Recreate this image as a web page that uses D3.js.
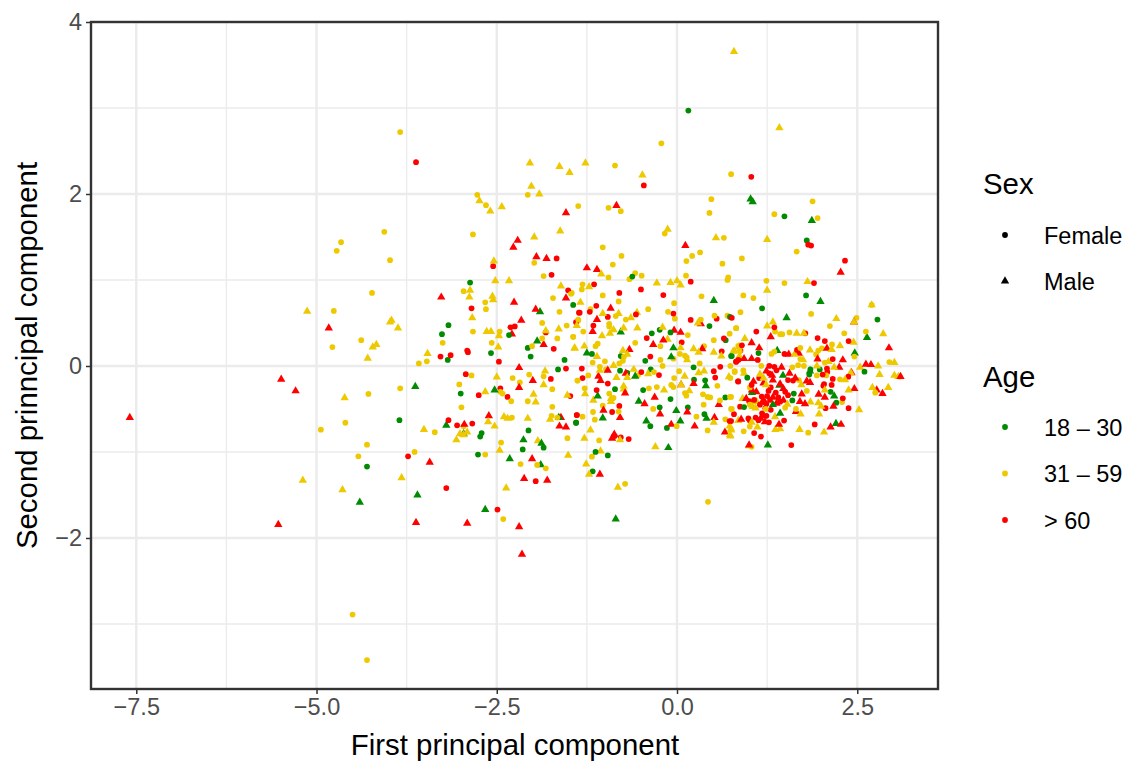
<!DOCTYPE html>
<html>
<head>
<meta charset="utf-8">
<title>PCA scatterplot</title>
<script src="https://cdnjs.cloudflare.com/ajax/libs/d3/7.8.5/d3.min.js"></script>
<style>
  html, body { margin: 0; background: #fff; }
  text { font-family: "Liberation Sans", Helvetica, Arial, sans-serif; }
</style>
</head>
<body>
<script>
var xTicks = [-7.5, -5, -2.5, 0, 2.5];
var yTicks = [-2, 0, 2, 4];
var xMinor = [-6.25, -3.75, -1.25, 1.25];
var yMinor = [-3, -1, 1, 3];
var sexLabels = ['Female', 'Male'];
var ageLabels = ['18 \u2013 30', '31 \u2013 59', '> 60'];

// [first component, second component]
var maleMiddle = [[-5.13,.635],[-4.17,.25],[-4.22,.22],[-4.29,.09],[-3.98,.51],[-4.61,-.37],[-5.19,-1.33],[-4.64,-1.44],
[-2.04,2.36],[-1.63,2.32],[-1.49,2.25],[-2.02,2.09],[-1.91,2],[-2.74,1.92],[-2.43,1.85],[-2.59,1.8],[-1.62,1.57],[-1.98,1.5],[-2.54,1.22],[-2.52,.99],[-2.33,.99],[-1.61,.93],[-2.87,.88],[-2.88,.8],[-2.56,.81],[-2.55,.77],[-2.84,.56],[-3.96,.53],[-3.87,.44],[-1.39,.47],[-1.82,.41],[-1.64,.43],[-2.64,.4],[-2.58,.4],[-2.47,.35],[-2.48,.22],[-1.42,.21],
[-3.46,.145],[-2.5,-.13],[-1.83,-.06],[-1.85,-.22],[-2.66,-.3],[-1.99,-.33],[-1.52,-.34],[-1.96,-.42],[-2.4,-.59],[-2.35,-.61],[-2.07,-.61],[-1.76,-.62],[-2.62,-.65],[-2.53,-.7],[-3.51,-.74],[-2.91,-.77],[-3.01,-.79],[-2.96,-.8],[-3.06,-.86],[-1.93,-.87],[-2.46,-.98],[-1.51,-1.04],[-3.82,-1.3],[-2.37,-1.42],
[.79,3.655],[1.42,2.77],[-1.27,2.36],[-.48,2.22],[-.13,1.59],[.54,1.49],[1.25,1.47],[-1.05,1.07],[-.28,.965],[-.09,.97],[0,.99],[.05,.94],[1.81,.98],[-1.22,.92],[1.25,.88],[-1.34,.74],[2.7,.71],[-1.03,.61],[-.81,.61],[-.555,.62],[2.21,.55],[-.64,.56],
[.29,.5],[-.74,.44],[-.55,.44],[-.2,.45],[-.88,.42],[-.93,.38],[-1.04,.35],[-.13,.31],[-1.42,.205],[-1.285,.23],[-.75,.18],[.23,.2],[.05,.21],[.78,.17],[.51,.16],[.3,.16],[-.69,.135],[-1.11,.11],[.615,.116],[.14,.07],[-.88,.004],[-1.07,-.05],[-.6,-.04],[.375,-.06],[-.4,-.09],[.3,-.08],[-.69,-.135],[-.84,-.135],[.72,-.125],[.106,-.12],[.056,-.22],[-.18,-.28],[-.74,-.235],[-.74,-.27],[-1.275,-.325],[.17,-.29],[-.915,-.38],[-1.16,-.4],[-.915,-.415],[.51,-.655],[.73,-.7],[.75,-.745],[-1.2,-.745],[.74,-.815],[-.79,-.86],[-1.285,-.84],[-.3,-.94],[-1.06,-.99],[-1.26,-1.14],[-1.22,-1.26],[-.82,-1.41],
[2.455,.51],[1.25,.465],[1.33,.51],[2.86,.375],[1.66,.38],[1.76,.38],[.94,.32],[2.45,.275],[2.26,.235],[1.845,.186],[2.145,.19],[.86,.225],[1.63,.135],[.8,.175],[.865,.116],[1.75,.07],[2.1,.05],[3.015,.04],[2.79,0],[1.94,0],[2.18,-.015],[2.54,-.015],[2.41,-.08],[.93,-.085],[1.15,-.097],[1.2,-.14],[2.81,-.1],[3.015,-.11],[3.07,-.124],[2.33,-.16],[1.235,-.22],[1.725,-.22],[2.38,-.28],[2.71,-.25],[2.93,-.25],[2.05,-.28],[.91,-.38],[1.105,-.415],[1.85,-.42],[1.96,-.43],[2,-.47],[2.525,-.51],[1.05,-.473],[1.53,-.446],[1.09,-.49],[1.715,-.56],[1.97,-.56],[1.36,-.59],[.85,-.635],[1.035,-.655],[.75,-.73],[1.115,-.71],[1.365,-.74],[1.43,-.73],[1.7,-.74],[2.04,-.77],[.735,-.8],[.998,-.93]];

var femaleMiddle = [[-4.06,1.56],[-4.66,1.44],[-4.72,1.34],[-3.98,1.23],[-4.23,.85],[-4.76,.64],[-4.38,.3],[-4.78,.22],[-4.28,-.325],[-4.6,-.66],[-4.94,-.74],[-4.3,-.915],[-4.42,-1.05],[-4.5,-2.89],[-4.3,-3.42],[-3.84,2.72],
[-2.77,1.99],[-2.07,1.99],[-2.65,1.87],[-1.37,1.86],[-2.83,1.53],[-1.98,1.2],[-1.85,1.045],[-2.96,.87],[-1.47,.84],[-1.72,.79],[-2.66,.74],[-2.65,.66],[-1.63,.63],[-1.87,.5],[-1.37,.53],[-1.53,.47],[-2.83,.4],[-2.46,.4],[-1.66,.32],[-1.44,.34],[-1.87,.32],[-3.25,.27],[-2.57,.27],[-2.01,.23],
[-3.58,.03],[-3.47,.055],[-2.85,-.11],[-2.28,-.14],[-2.05,-.1],[-1.85,-.12],[-2.18,-.19],[-1.38,-.17],[-3.02,-.215],[-3.84,-.26],[-1.73,-.27],[-2.45,-.3],[-2.42,-.32],[-2.3,-.41],[-2.07,-.41],[-2.99,-.48],[-1.73,-.475],[-2.29,-.6],[-1.74,-.58],[-1.66,-.6],[-2.96,-.7],[-3.36,-.77],[-1.52,-.84],[-2.44,-.89],[-3.64,-1],[-2.66,-1.03],[-2.17,-1.14],[-1.94,-1.15],[-1.82,-1.19],[-2.41,-1.78],
[-.217,2.59],[-.86,2.33],[.75,2.23],[.476,1.94],[1.88,1.915],[-.95,1.84],[-.78,1.8],[.45,1.78],[1.35,1.765],[1.95,1.72],[-.17,1.54],[.65,1.49],[-1.03,1.38],[.32,1.32],[1.66,1.33],[-.77,1.28],[.21,1.28],[.9,1.25],[.13,1.22],[-.89,1.18],[.63,1.19],[-.95,1.03],[-.58,1.08],[-.66,1.01],[-.49,1.05],[.125,1.05],[.71,1.03],[.7,1],[1.24,.99],[1.49,.965],[-1.31,.95],[-1.32,.89],[-1.46,.85],[-1.03,.82],[.34,.81],[.92,.82],[1.06,.79],[-.81,.75],[-.04,.73],[2.7,.71],[-1.2,.66],[-.4,.66],[-.125,.63],[.88,.625],[1.86,.605],[.52,.585],[.7,.585],[-.85,.58],[2.49,.56],[.33,.54],[-.71,.54],[-.03,.55],[-1.37,.54],
[-.94,.49],[-.94,.46],[.82,.44],[-1.3,.4],[.15,.36],[.73,.375],[-1.44,.34],[.51,.3],[-.58,.27],[-1.1,.26],[-1.13,.23],[-.23,.23],[.375,.23],[.85,.235],[.04,.14],[.11,.12],[.135,.1],[-.735,.11],[-.05,.085],[-.23,.07],[-1.17,.04],[-.8,.03],[-.75,.06],[-1,.055],[-.2,0],[.315,.03],[-1.07,-.01],[.74,0],[-.985,-.04],[.8,-.07],[-.32,-.07],[.03,-.06],[-.54,-.105],[-1.23,-.11],[-.04,-.14],[.56,-.23],[-1.38,-.17],[-.08,-.22],[-.05,-.245],[-.28,-.245],[-.39,-.26],[-1.28,-.26],[-.94,-.32],[.11,-.315],[.13,-.345],[.36,-.33],[.425,-.36],[.46,-.365],[.75,-.36],[-.88,-.37],[.596,-.4],[.37,-.45],[-1.03,-.46],[-.33,-.5],[.75,-.5],[-.81,-.53],[-1.165,-.535],[-1.31,-.59],[-1.14,-.625],[.27,-.59],[.67,-.62],[-.005,-.7],[.425,-.75],[-1.08,-.865],[-1.18,-1.055],[-.72,-1.37],[.43,-1.58],
[2.12,.465],[.82,.44],[1.36,.4],[1.43,.37],[1.46,.37],[1.56,.39],[2.32,.38],[2.62,.4],[2.15,.25],[1.71,.21],[2.01,.205],[1.96,.18],[1.35,.167],[1.31,.14],[2.46,.11],[.87,.17],[1.93,.135],[1.71,.08],[2.05,.04],[2.945,.046],[1.17,0],[1.68,.01],[1.6,-.015],[1.76,0],[1.94,-.11],[2.07,-.11],[3.09,-.124],[2.26,-.155],[.8,-.06],[.92,-.05],[.74,-.14],[1.69,-.163],[1.01,-.25],[1.8,-.29],[.735,-.36],[2.29,-.42],[2.75,-.31],[1.01,-.45],[.76,-.5],[1.23,-.5],[1.5,-.485],[1.65,-.5],[1.01,-.705],[.925,-.76],[1.82,-.775],[1.035,-.94]];

var maleYoung = [[-4.4,-1.585],[-1.9,.63],[-1.94,.29],[-3.63,-.24],[-2.53,-.28],[-3.2,-.69],[-1.64,-.6],[-2.96,-.79],[-2.13,-.86],[-1.88,-.9],[-2.32,-1.08],[-1.89,-1.15],[-3.6,-1.5],[-2.66,-1.67],
[1.02,1.94],[1.05,1.91],[1.87,1.69],[.51,.76],[1.99,.75],[1.52,.56],[-.78,.395],[-.05,.21],[-1.25,.15],[-.08,.105],[-.58,-.12],[.4,-.23],[-1.1,-.35],[-.53,-.41],[-.01,-.52],[-1.03,-.605],[.41,-.61],[-.425,-.64],[.046,-.64],[-.12,-.95],[-.85,-1.78],
[2.635,.33],[1.39,.18],[2.465,.15],[1.845,-.06],[1.47,-.11],[1.42,-.225],[1.04,-.31],[2.18,-.35],[1.33,-.45],[1.43,-.55],[2.205,-.67],[1.26,-.92]];

var femaleYoung = [[-4.3,-1.17],[-2.87,.97],[-1.44,.71],[-3.17,.475],[-2.33,.36],[-3.26,.37],[-2.07,.21],[-3.18,.07],[-2.58,.15],[-2.03,.11],[-1.56,.07],[-1.65,-.04],[-3,-.32],[-3.85,-.63],[-1.4,-.66],[-2.06,-.75],[-2.71,-.78],[-2.73,-.82],[-1.85,-.95],[-2.14,-.97],[-2.76,-1.03],
[.157,2.97],[1.49,1.74],[1.8,1.46],[-.62,1.04],[1.79,.82],[1.18,.67],[.735,.57],[2.78,.54],[.45,.465],[-.35,.38],[-.24,.42],[-.09,.39],[.675,.3],[-1.18,.14],[-.78,.116],[-.44,.06],[.76,.116],[.23,-.015],[-.79,-.055],[-.365,-.04],[-.69,-.08],[.236,-.16],[.39,-.167],[-.86,-.27],[-.47,-.28],[.67,-.365],[-.09,-.385],[-.24,-.48],[.15,-.48],[.38,-.56],[-1.4,-.66],[-.37,-.7],[-.14,-.72],[-1.13,-1],[-.96,-1.04],[-1.17,-1.225],
[1.13,.15],[.75,.116],[1.85,-.04],[1.835,-.1],[1.98,-.04],[2.6,-.066],[.975,-.136],[2.13,-.3],[1.62,-.32],[1.6,-.4],[2.21,-.427],[.93,-.477]];

var maleOld = [[-4.83,.44],[-5.49,-.155],[-5.29,-.29],[-7.59,-.6],[-5.53,-1.845],
[-1.54,1.78],[-2.21,1.46],[-2.27,1.38],[-1.95,1.27],[-1.81,1.25],[-3.27,.8],[-1.54,.79],[-2.26,.74],[-1.96,.66],[-2.16,.53],[-2.29,.37],[-1.85,.25],
[-2.19,-.02],[-2,-.17],[-2.19,-.25],[-1.61,-.6],[-2.61,-.58],[-2.95,-.68],[-1.63,-.7],[-1.54,-.71],[-2.01,-1.08],[-3.43,-1.12],[-2.12,-1.31],[-1.8,-1.33],[-3.62,-1.82],[-2.91,-1.83],[-2.19,-1.87],[-2.15,-2.19],
[.116,1.4],[-.84,1.865],[2.27,1.09],[-1.25,1.14],[-1.11,1.12],[-.92,.67],[-1.11,.54],[.33,.49],[-.04,.415],[-1.17,.4],[.05,.39],[-.19,.3],[-.33,.25],[-.66,.19],[.35,.2],[-.96,-.05],[-.71,-.085],[-1.09,-.12],[-1.06,-.17],[.23,-.205],[.056,-.22],[-.72,-.315],[-.31,-.365],[.58,-.45],[-.45,-.44],[-1.02,-.516],[.143,-.535],[-.235,-.56],[.52,-.6],[-.79,-.6],[-.08,-.68],[.245,-.7],[.665,-.77],[-.87,-.795],[-.9,-.84],[-1.07,-1.26],
[2.455,.51],[1.3,.34],[1.035,.27],[1.14,.21],[2.08,.205],[2.94,.21],[1.55,.135],[1.69,.147],[1.95,.08],[1.035,.085],[.93,.085],[2.3,.07],[2.62,.02],[2.69,.015],[1.45,-.015],[2.25,-.015],[2.42,-.08],[1.24,-.06],[1.32,-.11],[1.56,-.085],[1.33,-.165],[1.06,-.18],[1.43,-.21],[1.64,-.14],[1.8,-.175],[1.845,-.194],[2.46,-.264],[2.77,-.28],[2.85,-.32],[3.1,-.124],[1.475,-.264],[1.73,-.326],[1.965,-.33],[2.05,-.365],[1.33,-.365],[.96,-.38],[1.2,-.395],[1.475,-.4],[1.705,-.415],[1.775,-.44],[2.17,-.47],[1.38,-.435],[1.65,-.53],[1.195,-.58],[.89,-.62],[1.16,-.61],[1.22,-.65],[2.13,-.71],[2.275,-.68],[1.415,-.68],[1,-.92],[1.1,-.3],[1.2,-.2],[1.04,-.28]];

var femaleOld = [[-3.62,2.37],[-1.67,1.25],[-2.55,1.16],[-1.74,1.06],[-1.51,.88],[-2.85,.67],[-1.36,.62],[-1.4,.51],[-2.25,.46],[-2.31,.45],[-1.82,.39],[-1.71,.2],[-2.91,.18],
[-3.28,.11],[-3.14,.125],[-2.9,.16],[-2.47,.05],[-1.54,-.03],[-2.93,-.095],[-1.75,-.15],[-2.45,-.26],[-2.75,-.34],[-2.35,-.36],[-1.48,-.35],[-1.39,-.57],[-3.17,-.63],[-3.05,-.69],[-2.84,-.67],[-3.73,-1.05],[-1.96,-1.34],[-3.2,-1.42],[-2.49,-1.67],
[1.03,2.2],[-.46,2.1],[1.82,1.41],[1.86,1.4],[2.33,1.225],[-1.15,.95],[.19,.98],[1.9,.965],[-.8,.85],[-.5,.89],[-.19,.825],[-1.12,.7],[-1.21,.63],[-1.35,.62],[-.57,.6],[-.05,.61],[-.96,.57],[.76,.56],[.55,.55],[.19,.535],
[-1.16,.47],[-.42,.325],[.65,.32],[.065,.275],[.62,.17],[-.37,.11],[.82,.05],[.85,.07],[.6,-.01],[-1.32,-.03],[.51,-.06],[-.495,-.07],[-.25,-.105],[.53,-.135],[-1.31,-.14],[-.96,-.205],[.85,-.18],[-1.115,-.28],[-.8,-.465],[-.9,-.535],[.79,-.56],[-1.39,-.57],[.73,-.64],[-.865,-.815],[-.78,-.83],[-.67,-.85],
[1.35,.45],[1.1,.4],[1.78,.38],[1.95,.325],[2.05,.29],[2.38,.29],[.9,.24],[.88,.18],[1.49,.14],[1.665,.186],[.86,.08],[.82,.05],[1.12,.07],[2.16,.08],[1.35,-.01],[1.28,0],[2.08,-.03],[2.085,-.07],[2.02,-.1],[2.376,-.124],[2.16,-.15],[1.28,-.085],[1.38,-.05],[.846,-.18],[1.14,-.14],[1.035,-.22],[1.54,-.163],[1.61,-.17],[2.04,-.21],[2.145,-.22],[2.03,-.23],[1.27,-.29],[1.54,-.34],[2.3,-.376],[1.175,-.356],[1.25,-.35],[1.405,-.365],[1.37,-.31],[1,-.41],[1.07,-.395],[1.29,-.395],[1.43,-.415],[2.06,-.49],[2.38,-.49],[.875,-.473],[1.15,-.45],[1.2,-.42],[1.24,-.44],[1.3,-.51],[1.225,-.49],[1.18,-.55],[1.24,-.58],[.75,-.64],[.99,-.61],[1.01,-.635],[1.09,-.6],[1.13,-.63],[1.275,-.655],[1.485,-.635],[1.91,-.68],[1.07,-.78],[1.165,-.82],[1.585,-.92],[1.3,-.25],[1.5,-.3]];

var ageColors = ['#008B00', '#EEC900', '#FF0000'];

var w = 1128, h = 761;
var panelLeft = 91, panelRight = 938, panelTop = 22, panelBottom = 689;

var x = d3.scaleLinear().domain([-8.128, 3.62]).range([panelLeft, panelRight]);
var y = d3.scaleLinear().domain([-3.756, 4]).range([panelBottom, panelTop]);

var svg = d3.select('body').append('svg')
    .attr('width', w)
    .attr('height', h)
    .style('display', 'block');

// grid, minor under major
var grid = svg.append('g');
function gridLines(xs, ys, width) {
    grid.selectAll(null).data(xs).enter().append('line')
        .attr('x1', x).attr('x2', x).attr('y1', panelTop).attr('y2', panelBottom)
        .attr('stroke', '#EBEBEB').attr('stroke-width', width);
    grid.selectAll(null).data(ys).enter().append('line')
        .attr('y1', y).attr('y2', y).attr('x1', panelLeft).attr('x2', panelRight)
        .attr('stroke', '#EBEBEB').attr('stroke-width', width);
}
gridLines(xMinor, yMinor, 1.3);
gridLines(xTicks, yTicks, 2.4);

var circle = d3.symbol().type(d3.symbolCircle).size(26)();
var triangle = d3.symbol().type(d3.symbolTriangle).size(30)();

// the colours overlap in no fixed order, so mix the groups when drawing
var marks = [];
function addGroup(points, shape, color) {
    points.forEach(function (d, i) {
        marks.push({ pc1: d[0], pc2: d[1], shape: shape, color: color, order: i % 5 });
    });
}
addGroup(maleYoung, triangle, ageColors[0]);
addGroup(femaleYoung, circle, ageColors[0]);
addGroup(maleOld, triangle, ageColors[2]);
addGroup(femaleOld, circle, ageColors[2]);
addGroup(maleMiddle, triangle, ageColors[1]);
addGroup(femaleMiddle, circle, ageColors[1]);
marks.sort(function (a, b) { return a.order - b.order; });

svg.append('g').selectAll('path')
    .data(marks)
    .enter()
    .append('path')
    .attr('d', function (d) { return d.shape; })
    .attr('fill', function (d) { return d.color; })
    .attr('transform', function (d) {
        return 'translate(' + x(d.pc1) + ',' + y(d.pc2) + ')';
    });

svg.append('rect')
    .attr('x', panelLeft).attr('y', panelTop)
    .attr('width', panelRight - panelLeft).attr('height', panelBottom - panelTop)
    .attr('fill', 'none').attr('stroke', '#333333').attr('stroke-width', 2.4);

var xAxis = svg.append('g')
    .attr('transform', 'translate(0,' + panelBottom + ')')
    .call(d3.axisBottom(x).tickValues(xTicks).tickFormat(d3.format('.1f')).tickSize(5).tickPadding(4));
var yAxis = svg.append('g')
    .attr('transform', 'translate(' + panelLeft + ',0)')
    .call(d3.axisLeft(y).tickValues(yTicks).tickFormat(d3.format('d')).tickSize(5).tickPadding(4));
[xAxis, yAxis].forEach(function (a) {
    a.select('.domain').remove();
    a.selectAll('line').attr('stroke', '#333333').attr('stroke-width', 1.5);
    a.selectAll('text')
        .attr('fill', '#4D4D4D')
        .style('font-family', '"Liberation Sans", Helvetica, Arial, sans-serif')
        .style('font-size', '23.5px');
});

svg.append('text')
    .attr('x', (panelLeft + panelRight) / 2 + 0.5).attr('y', 755)
    .attr('text-anchor', 'middle')
    .style('font-size', '29.4px')
    .text('First principal component');
svg.append('text')
    .attr('transform', 'translate(37,' + (panelTop + panelBottom) / 2 + ') rotate(-90)')
    .attr('text-anchor', 'middle')
    .style('font-size', '29.4px')
    .text('Second prinncipal component');

// legends
function legend(title, titleY, labels, rowY, shapes, colors) {
    svg.append('text').attr('x', 983).attr('y', titleY)
        .style('font-size', '29.4px').text(title);
    labels.forEach(function (label, i) {
        svg.append('path')
            .attr('d', shapes[i])
            .attr('fill', colors[i])
            .attr('transform', 'translate(1005,' + rowY[i] + ')');
        svg.append('text')
            .attr('x', 1044).attr('y', rowY[i] + 8.5)
            .style('font-size', '23.5px')
            .text(label);
    });
}
legend('Sex', 193.5, sexLabels, [235, 281], [circle, triangle], ['#000', '#000']);
legend('Age', 386.5, ageLabels, [427, 473.5, 520], [circle, circle, circle], ageColors);
</script>
</body>
</html>
